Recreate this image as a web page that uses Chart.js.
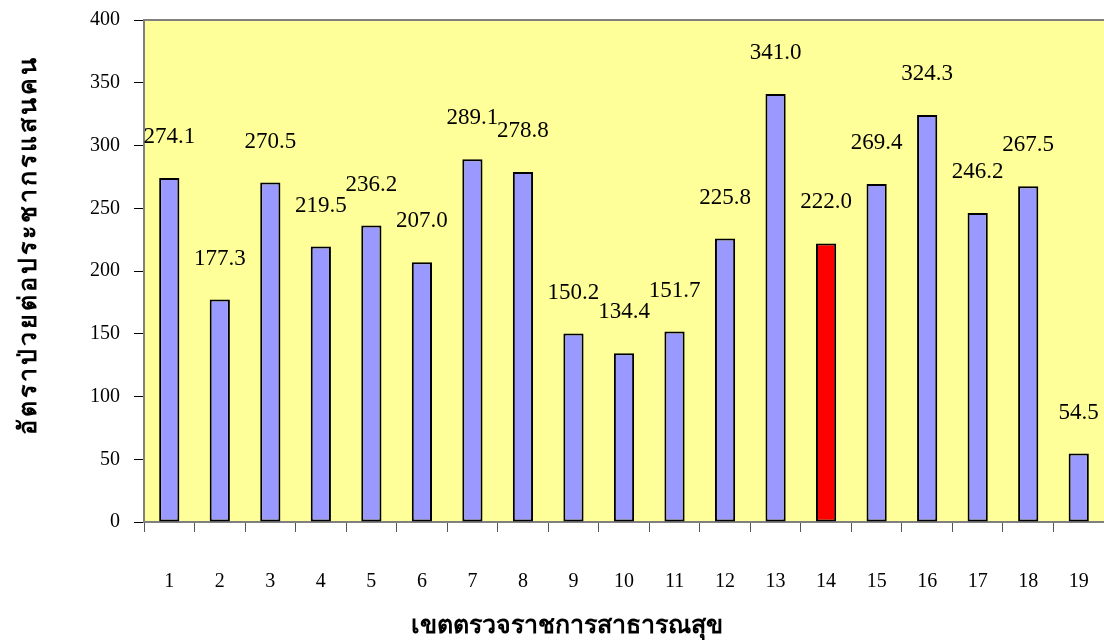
<!DOCTYPE html>
<html>
<head>
<meta charset="utf-8">
<script src="https://cdn.jsdelivr.net/npm/chart.js@4"></script>
<style>
  html, body { margin: 0; padding: 0; background: #ffffff; }
  #wrap { width: 1104px; height: 640px; }
</style>
</head>
<body>
<div id="wrap"><canvas id="chart" width="1104" height="640"></canvas></div>
<script>
const regions = ["1","2","3","4","5","6","7","8","9","10","11","12","13","14","15","16","17","18","19"];
const rates = [274.1, 177.3, 270.5, 219.5, 236.2, 207.0, 289.1, 278.8, 150.2, 134.4, 151.7, 225.8, 341.0, 222.0, 269.4, 324.3, 246.2, 267.5, 54.5];
const highlightRegion = "14";
const yTicks = [0, 50, 100, 150, 200, 250, 300, 350, 400];

const xTitle = "เขตตรวจราชการสาธารณสุข";
const yTitle = "อัตราป่วยต่อประชากรแสนคน";

const serif = "'Liberation Serif', 'Times New Roman', serif";
const thai = "'Liberation Serif', 'DejaVu Sans', sans-serif";

// yellow plot area with grey top edge
const plotBack = {
  id: "plotBack",
  beforeDraw(chart) {
    const a = chart.chartArea, c = chart.ctx;
    c.save();
    c.fillStyle = "#FFFF99";
    c.fillRect(a.left, a.top, a.right - a.left, a.bottom - a.top);
    c.strokeStyle = "#808080";
    c.lineWidth = 2;
    c.beginPath();
    c.moveTo(a.left, a.top);
    c.lineTo(a.right, a.top);
    c.stroke();
    c.restore();
  }
};

// value labels, Excel style, a bit above each bar
const valueLabels = {
  id: "valueLabels",
  afterDatasetsDraw(chart) {
    const c = chart.ctx;
    const meta = chart.getDatasetMeta(0);
    c.save();
    c.font = "23px " + serif;
    c.fillStyle = "#000000";
    c.textAlign = "center";
    c.textBaseline = "middle";
    meta.data.forEach((bar, i) => {
      c.fillText(rates[i].toFixed(1), bar.x, bar.y - 41);
    });
    c.restore();
  }
};

// axis titles are centred on the whole chart like in Excel, not on the plot
const axisTitles = {
  id: "axisTitles",
  afterDraw(chart) {
    const c = chart.ctx;
    c.save();
    c.fillStyle = "#000000";
    c.textAlign = "center";
    c.textBaseline = "middle";
    c.font = "bold 25px " + thai;
    c.fillText(xTitle, 567, 627);
    c.translate(30, 245);
    c.rotate(-Math.PI / 2);
    c.letterSpacing = "3px";
    c.fillText(yTitle, 0, 0);
    c.restore();
  }
};

new Chart(document.getElementById("chart"), {
  type: "bar",
  data: {
    labels: regions,
    datasets: [{
      data: rates,
      backgroundColor: regions.map(r => r === highlightRegion ? "#FF0000" : "#9999FF"),
      borderColor: "#000000",
      borderWidth: 2,
      borderSkipped: false,
      barPercentage: 0.4,
      categoryPercentage: 1.0
    }]
  },
  options: {
    responsive: false,
    animation: false,
    layout: { padding: { top: 20, right: 0, bottom: 0, left: 0 } },
    plugins: {
      legend: { display: false },
      tooltip: { enabled: false }
    },
    scales: {
      x: {
        grid: { offset: true, drawOnChartArea: false, drawTicks: true, tickLength: 10, color: "#555555", lineWidth: 1 },
        border: { color: "#808080", width: 2 },
        ticks: { color: "#000000", font: { family: serif, size: 20 }, padding: 38, maxRotation: 0 },
        afterFit(s) { s.height = 118; s.paddingLeft = 0; s.paddingRight = 0; }
      },
      y: {
        min: 0,
        max: 400,
        afterBuildTicks(s) { s.ticks = yTicks.map(v => ({ value: v })); },
        grid: { drawOnChartArea: false, drawTicks: true, tickLength: 10, color: "#000000", lineWidth: 1 },
        border: { color: "#808080", width: 2 },
        ticks: { color: "#000000", font: { family: serif, size: 20 }, padding: 14 },
        afterFit(s) { s.width = 144; s.paddingTop = 0; s.paddingBottom = 0; }
      }
    }
  },
  plugins: [plotBack, valueLabels, axisTitles]
});
</script>
</body>
</html>
